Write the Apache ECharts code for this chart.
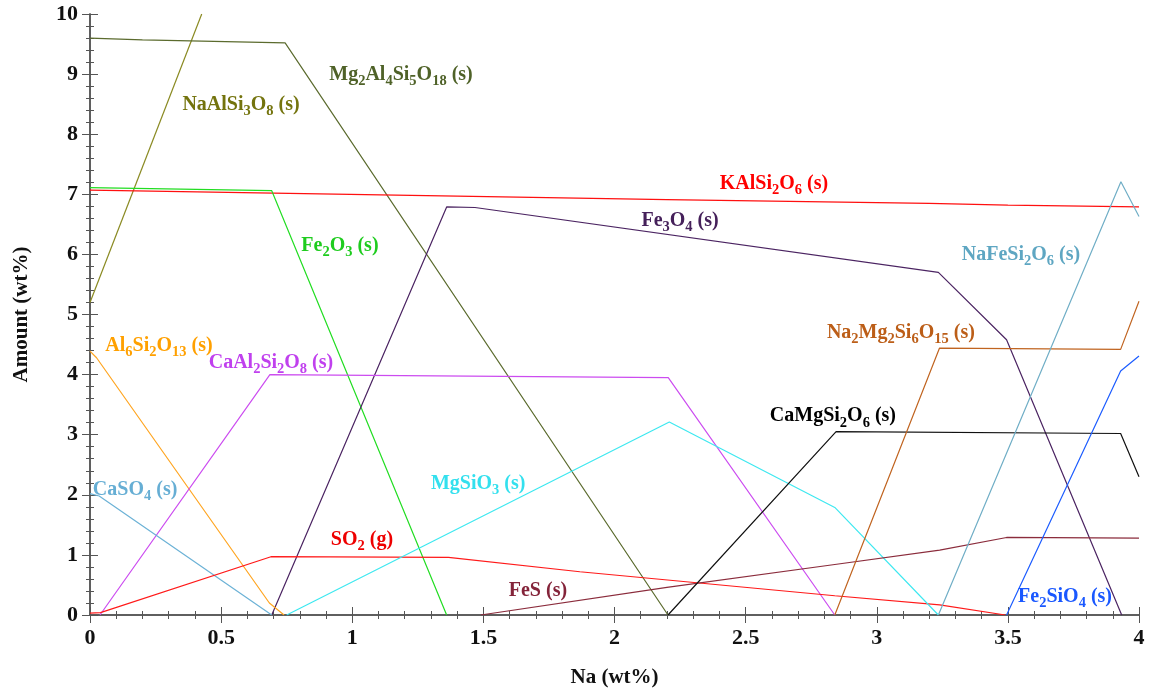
<!DOCTYPE html>
<html><head><meta charset="utf-8">
<script src="https://cdn.jsdelivr.net/npm/echarts@6/dist/echarts.min.js"></script>
<style>html,body{margin:0;padding:0;background:#fff}#c{width:1149px;height:693px}</style>
</head><body><div id="c"></div>
<script>
// ---- data (x = Na wt%, y = amount wt%) ----
const NaAlSi3O8    = [[0,5.2],[0.426,10]];
const Mg2Al4Si5O18 = [[0,9.6],[0.2,9.57],[0.744,9.52],[2.204,0]];
const KAlSi2O6     = [[0,7.07],[0.7,7.02],[1.4,6.97],[2.2,6.91],[3.2,6.85],[3.5,6.82],[4,6.79]];
const Fe2O3        = [[0,7.11],[0.693,7.06],[1.36,0]];
const Fe3O4        = [[0.693,0],[1.36,6.79],[1.468,6.78],[3.235,5.70],[3.495,4.58],[3.934,0]];
const Al6Si2O13    = [[0,4.39],[0.025,4.28],[0.684,0.2],[0.74,0]];
const CaAl2Si2O8   = [[0.038,0],[0.686,4.0],[2.205,3.95],[2.84,0]];
const CaSO4        = [[0,2.02],[0.035,1.98],[0.693,0]];
const SO2          = [[0,0.03],[0.04,0.04],[0.69,0.97],[1.367,0.96],[1.868,0.72],[2.84,0.32],[3.24,0.17],[3.49,0]];
const MgSiO3       = [[0.75,0],[2.209,3.21],[2.84,1.79],[3.235,0]];
const FeS          = [[1.49,0],[2.2,0.46],[2.84,0.84],[3.24,1.08],[3.495,1.29],[4,1.28]];
const CaMgSi2O6    = [[2.204,0],[2.845,3.05],[3.93,3.02],[4,2.3]];
const Na2Mg2Si6O15 = [[2.84,0],[3.239,4.44],[3.93,4.42],[4,5.22]];
const NaFeSi2O6    = [[3.235,0],[3.931,7.21],[4,6.63]];
const Fe2SiO4      = [[3.495,0],[3.93,4.06],[4,4.31]];

const xTicks = [0,0.5,1,1.5,2,2.5,3,3.5,4];
const yTicks = [0,1,2,3,4,5,6,7,8,9,10];

// label names and anchor positions (data coords)
const labelNames = ['Mg2Al4Si5O18 (s)','NaAlSi3O8 (s)','KAlSi2O6 (s)','Fe3O4 (s)','Fe2O3 (s)','NaFeSi2O6 (s)',
  'Al6Si2O13 (s)','CaAl2Si2O8 (s)','Na2Mg2Si6O15 (s)','CaMgSi2O6 (s)','CaSO4 (s)','MgSiO3 (s)','SO2 (g)','FeS (s)','Fe2SiO4 (s)'];
const labelPos = [[1.186,8.97],[0.576,8.47],[2.608,7.16],[2.25,6.54],[0.953,6.13],[3.55,5.98],
  [0.263,4.47],[0.69,4.18],[3.092,4.68],[2.833,3.29],[0.172,2.07],[1.48,2.17],[1.037,1.24],[1.708,0.38],[3.718,0.28]];

const seriesDefs = [
  ['NaAlSi3O8', NaAlSi3O8, '#8a8a22'],
  ['Mg2Al4Si5O18', Mg2Al4Si5O18, '#5b6b2e'],
  ['KAlSi2O6', KAlSi2O6, '#ff1010'],
  ['Fe2O3', Fe2O3, '#22dd22'],
  ['Fe3O4', Fe3O4, '#4b2462'],
  ['Al6Si2O13', Al6Si2O13, '#ffa520'],
  ['CaAl2Si2O8', CaAl2Si2O8, '#cc4cf0'],
  ['CaSO4', CaSO4, '#6cb2d6'],
  ['SO2', SO2, '#ff1a1a'],
  ['MgSiO3', MgSiO3, '#3ee8f0'],
  ['FeS', FeS, '#8b2c3c'],
  ['CaMgSi2O6', CaMgSi2O6, '#111111'],
  ['Na2Mg2Si6O15', Na2Mg2Si6O15, '#c06420'],
  ['NaFeSi2O6', NaFeSi2O6, '#70aec6'],
  ['Fe2SiO4', Fe2SiO4, '#1c5cff']
];
const labelColors = ['#4f6228','#74740e','#ff0000','#45205a','#1ecc1e','#5ea6c2',
  '#ffa000','#c040ee','#bc5e18','#000000','#66aed4','#33e0ee','#ee0000','#84243a','#1a58ff'];

const FONT = '"Liberation Serif","Times New Roman",serif';
function toRich(name){
  let out = '';
  const m = name.match(/^(\S+)(.*)$/);
  const formula = m[1], rest = m[2];
  formula.replace(/([A-Za-z]+)|(\d+)/g,(t,a,d)=>{ out += a ? '{n|'+a+'}' : '{s|'+d+'}'; return t;});
  out += '{n|'+rest.replace(/ /g,'\u00a0')+'}';
  return out;
}

const chart = echarts.init(document.getElementById('c'));
const axisCommon = {
  type:'value', splitLine:{show:false},
  axisLine:{show:true, lineStyle:{color:'#555', width:1.5}},
  axisTick:{show:true, inside:true, length:8, lineStyle:{color:'#555'}},
  minorTick:{show:true, splitNumber:5, length:4, lineStyle:{color:'#555'}},
};
const series = seriesDefs.map(([n,d,c])=>({
  name:n, type:'line', data:d, symbol:'none', clip:true,
  lineStyle:{color:c, width:1.2}, animation:false
}));
series.push({
  type:'scatter', symbolSize:0, animation:false, itemStyle:{opacity:1},
  data: labelPos.map((p,i)=>({value:p, label:{
    show:true, position:'inside', opacity:1, formatter: toRich(labelNames[i]),
    rich:{
      n:{fontFamily:FONT, fontWeight:'bold', fontSize:20, color:labelColors[i], opacity:1, lineHeight:22, verticalAlign:'top'},
      s:{fontFamily:FONT, fontWeight:'bold', fontSize:14.5, color:labelColors[i], opacity:1, lineHeight:15, padding:[9,0,0,0], verticalAlign:'top'}
    }
  }})),
  z:10
});
chart.setOption({
  backgroundColor:'#fff',
  grid:{left:90, right:10, top:14, bottom:77},
  xAxis:[
    Object.assign({}, axisCommon, {min:0, max:4, interval:0.5, position:'bottom',
      name:'Na (wt%)', nameLocation:'middle', nameGap:52,
      nameTextStyle:{fontFamily:FONT, fontWeight:'bold', fontSize:21, color:'#111'},
      axisLabel:{fontFamily:FONT, fontWeight:'bold', fontSize:22, color:'#111', margin:12,
        formatter:v=>xTicks.includes(v)?String(v):''}}),
    Object.assign({}, axisCommon, {min:0, max:4, interval:0.5, position:'top', axisLabel:{show:false}})
  ],
  yAxis:[
    Object.assign({}, axisCommon, {min:0, max:10, interval:1, position:'left',
      name:'Amount (wt%)', nameLocation:'middle', nameGap:58,
      nameTextStyle:{fontFamily:FONT, fontWeight:'bold', fontSize:21, color:'#111'},
      axisLabel:{fontFamily:FONT, fontWeight:'bold', fontSize:22, color:'#111', margin:12,
        formatter:v=>yTicks.includes(v)?String(v):''}}),
    Object.assign({}, axisCommon, {min:0, max:10, interval:1, position:'right', axisLabel:{show:false}})
  ],
  series
});
</script></body></html>
